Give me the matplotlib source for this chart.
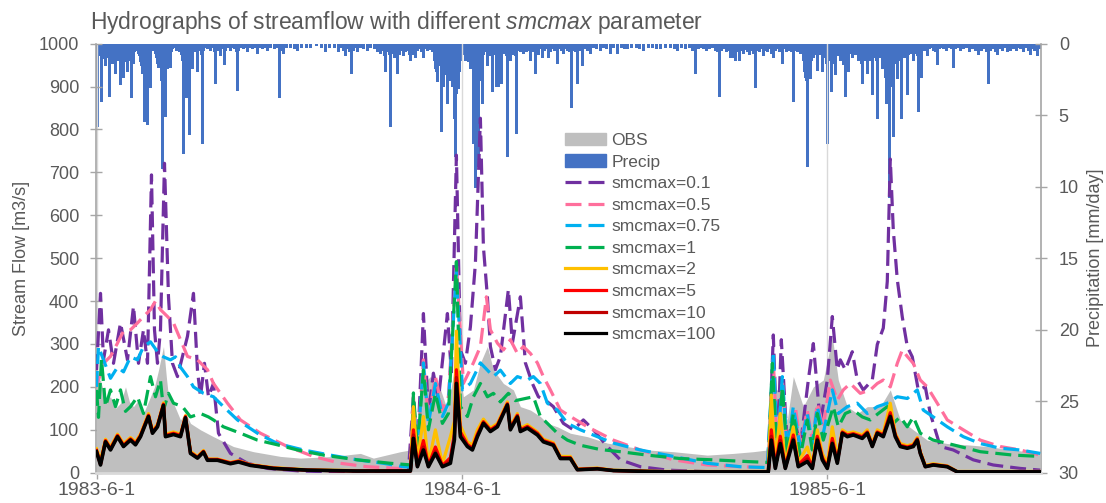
import matplotlib
matplotlib.use("Agg")
import matplotlib.pyplot as plt
import matplotlib.patches as mpatches
from matplotlib.lines import Line2D
import pandas as pd

plt.rcParams['font.family'] = ['Liberation Sans', 'DejaVu Sans']
plt.rcParams['mathtext.fontset'] = 'custom'
plt.rcParams['mathtext.rm'] = 'Liberation Sans'
plt.rcParams['mathtext.it'] = 'Liberation Sans:italic'

START = pd.Timestamp('1983-06-01')
END = pd.Timestamp('1985-12-31')

# ---- data (day offset from 1983-6-1) ----
obs_days = [0, 4, 9, 14, 19, 24, 29, 33, 37, 42, 47, 54, 58, 62, 67, 70, 72, 77, 84, 89,
            94, 104, 117, 137, 157, 184, 204, 237, 264, 277, 304, 314, 317, 321, 327, 334, 342, 351, 360, 367,
            377, 384, 391, 397, 407, 417, 424, 434, 444, 451, 461, 474, 491, 511, 531, 551, 577, 611, 637, 657,
            671, 677, 684, 691, 697, 707, 717, 727, 736, 742, 751, 761, 771, 784, 794, 804, 817, 831, 851, 871,
            891, 917, 944]
obs_flow = [210, 216, 170, 177, 150, 162, 200, 165, 154, 170, 138, 177, 200, 239, 294, 220, 177, 162, 123, 140,
            115, 100, 84, 61, 49, 38, 34, 38, 45, 34, 49, 53, 123, 90, 208, 224, 208, 146, 271, 177,
            193, 256, 294, 240, 208, 193, 154, 146, 131, 115, 107, 92, 84, 69, 61, 53, 49, 41, 45, 49,
            53, 193, 193, 123, 224, 154, 200, 216, 317, 216, 154, 138, 154, 154, 193, 123, 100, 76, 68, 65,
            61, 53, 45]

precip_events = [
    (0, 0.3), (1, 5.8), (2, 0.9), (3, 0.4), (4, 0.6), (5, 4.1), (6, 0.8), (7, 1.1), (8, 0.7), (9, 1.6),
    (10, 1.0), (11, 0.5), (12, 0.9), (13, 3.7), (14, 0.8), (15, 1.0), (16, 1.4), (17, 0.6), (18, 0.9), (19, 2.1),
    (20, 0.8), (21, 1.2), (22, 0.7), (23, 1.0), (24, 2.9), (25, 1.2), (26, 0.8), (27, 2.4), (28, 1.0), (29, 1.3),
    (30, 0.6), (31, 2.0), (32, 0.8), (33, 1.2), (34, 0.9), (35, 3.8), (36, 0.5), (37, 1.4), (38, 0.6), (39, 0.4),
    (40, 0.3), (41, 0.5), (42, 0.7), (43, 0.9), (44, 1.3), (45, 1.6), (46, 2.1), (47, 2.0), (48, 5.5), (49, 3.0),
    (50, 1.6), (51, 5.7), (52, 2.2), (53, 1.0), (54, 3.1), (55, 0.4), (56, 0.3), (57, 0.5), (58, 0.4), (59, 0.7),
    (60, 1.0), (61, 1.4), (62, 1.7), (63, 1.5), (64, 0.9), (65, 2.6), (66, 8.8), (67, 2.6), (68, 1.8), (69, 5.1),
    (70, 1.8), (71, 1.8), (72, 1.6), (73, 1.4), (74, 1.7), (75, 0.6), (76, 0.4), (78, 0.3), (80, 0.5), (82, 0.4),
    (83, 0.6), (85, 0.8), (86, 1.2), (87, 7.7), (88, 1.0), (89, 0.8), (90, 3.8), (91, 1.5), (92, 0.7), (93, 6.4),
    (94, 0.9), (95, 0.5), (96, 1.8), (97, 0.6), (98, 0.4), (100, 0.6), (101, 2.0), (102, 0.5), (103, 0.3), (104, 0.4),
    (105, 0.8), (106, 7.0), (107, 0.5), (109, 0.3), (111, 0.4), (113, 0.3), (114, 0.5), (116, 0.3), (118, 0.6), (119, 2.8),
    (120, 0.5), (121, 0.3), (122, 0.5), (124, 0.9), (125, 0.4), (126, 0.3), (128, 1.5), (129, 0.5), (131, 0.3), (134, 0.5),
    (136, 0.3), (138, 0.4), (140, 0.6), (141, 3.3), (142, 0.5), (144, 0.3), (147, 0.4), (150, 0.3), (151, 0.6), (153, 0.3),
    (156, 0.4), (158, 0.3), (161, 0.7), (163, 0.3), (166, 0.4), (169, 0.3), (171, 0.5), (174, 0.3), (178, 0.4), (181, 0.3),
    (183, 3.8), (184, 0.5), (187, 0.7), (190, 0.3), (194, 0.3), (198, 0.4), (201, 0.5), (205, 0.3), (210, 0.3), (214, 0.3),
    (220, 0.2), (225, 0.3), (229, 0.6), (233, 0.3), (238, 0.3), (242, 0.6), (245, 0.3), (247, 0.5), (249, 0.9), (251, 0.4),
    (253, 0.6), (255, 2.1), (257, 0.5), (259, 0.3), (261, 0.6), (264, 0.3), (267, 0.4), (271, 0.5), (274, 0.3), (278, 0.4),
    (281, 0.6), (284, 0.7), (286, 0.5), (288, 0.9), (289, 2.0), (291, 0.6), (293, 0.8), (294, 5.8), (296, 0.7), (298, 1.0),
    (300, 0.6), (301, 2.1), (303, 0.8), (305, 0.5), (307, 0.9), (309, 0.6), (311, 0.5), (313, 0.8), (314, 1.2), (316, 0.4),
    (317, 0.8), (319, 1.0), (321, 0.5), (323, 0.4), (325, 0.6), (327, 1.0), (329, 0.4), (331, 0.5), (334, 0.45), (336, 0.6),
    (338, 1.2), (339, 1.8), (340, 2.0), (341, 2.7), (342, 1.5), (343, 1.2), (344, 1.6), (345, 6.2), (346, 1.8), (347, 3.0),
    (348, 2.2), (349, 1.6), (350, 2.0), (351, 4.2), (352, 1.5), (353, 2.6), (354, 1.0), (355, 2.2), (356, 3.0), (357, 2.8),
    (358, 5.3), (359, 7.9), (360, 3.5), (361, 2.8), (362, 3.2), (363, 2.0), (364, 1.2), (365, 0.9), (366, 0.6), (367, 0.8),
    (368, 0.5), (369, 1.2), (370, 0.6), (371, 0.9), (372, 1.3), (373, 0.8), (374, 1.8), (375, 1.0), (376, 1.5), (377, 7.0),
    (378, 2.5), (379, 10.1), (380, 3.4), (381, 3.0), (382, 8.6), (383, 2.6), (384, 1.5), (385, 1.0), (386, 4.2), (387, 0.8),
    (388, 0.5), (389, 0.4), (390, 0.6), (391, 1.6), (392, 0.5), (393, 0.9), (394, 0.6), (395, 0.8), (396, 3.4), (397, 0.7),
    (398, 0.5), (399, 0.8), (400, 3.0), (401, 0.6), (402, 3.0), (403, 1.0), (404, 0.5), (405, 2.8), (406, 0.6), (407, 0.4),
    (408, 0.7), (409, 0.5), (410, 0.9), (411, 7.9), (412, 0.6), (413, 0.4), (414, 1.2), (415, 0.5), (416, 0.8), (417, 0.4),
    (418, 0.6), (419, 0.9), (420, 6.3), (421, 0.5), (422, 0.4), (424, 0.6), (425, 0.5), (427, 0.7), (429, 0.4), (430, 0.6),
    (432, 0.5), (434, 1.2), (435, 0.4), (437, 0.6), (439, 2.1), (440, 0.5), (442, 0.8), (444, 0.4), (446, 1.0), (448, 0.5),
    (450, 0.4), (452, 1.0), (454, 0.6), (456, 0.4), (458, 0.5), (461, 1.4), (463, 0.4), (465, 0.5), (467, 0.7), (469, 0.4),
    (471, 0.5), (473, 0.6), (475, 4.5), (477, 0.5), (479, 0.6), (481, 2.8), (483, 0.5), (486, 1.6), (488, 0.4), (491, 0.5),
    (494, 0.7), (497, 0.3), (500, 0.4), (504, 0.5), (507, 0.3), (510, 0.4), (514, 0.7), (517, 0.3), (521, 0.7), (525, 0.3),
    (528, 0.4), (531, 0.4), (535, 0.3), (540, 0.3), (543, 0.4), (547, 0.5), (552, 0.3), (556, 0.3), (560, 0.4), (564, 0.4),
    (569, 0.3), (574, 0.3), (578, 0.4), (581, 0.5), (585, 0.3), (589, 0.4), (593, 0.3), (596, 0.5), (599, 2.1), (602, 0.4),
    (605, 0.3), (607, 0.4), (610, 0.5), (613, 0.4), (616, 0.3), (619, 0.5), (621, 0.6), (623, 3.7), (625, 0.5), (627, 0.4),
    (630, 0.6), (632, 0.5), (634, 1.0), (636, 1.0), (637, 0.5), (639, 1.2), (641, 0.6), (643, 1.2), (645, 0.5), (647, 0.7),
    (649, 0.45), (651, 0.6), (653, 0.8), (655, 0.5), (657, 0.7), (659, 3.1), (661, 0.5), (663, 0.6), (665, 0.4), (667, 0.9),
    (669, 0.5), (671, 0.6), (673, 0.4), (675, 0.7), (677, 1.0), (679, 0.5), (681, 0.4), (683, 0.6), (685, 0.5), (686, 1.4),
    (688, 0.4), (690, 0.6), (692, 0.5), (694, 0.4), (695, 0.6), (697, 4.1), (699, 0.5), (701, 0.6), (702, 0.4), (704, 0.7),
    (706, 0.5), (707, 1.2), (708, 2.0), (709, 2.4), (710, 2.6), (711, 8.6), (712, 2.2), (713, 1.6), (714, 2.5), (715, 1.2),
    (716, 0.8), (717, 1.0), (718, 0.6), (719, 0.8), (720, 0.5), (721, 1.9), (722, 0.7), (723, 0.5), (724, 0.8), (725, 0.6),
    (726, 2.0), (727, 0.8), (728, 0.6), (729, 1.0), (730, 1.4), (731, 7.0), (732, 1.2), (733, 0.8), (734, 1.0), (735, 3.4),
    (736, 1.0), (737, 0.8), (738, 1.4), (739, 2.2), (740, 0.8), (741, 0.6), (742, 0.9), (743, 0.7), (744, 1.2), (745, 0.6),
    (746, 0.8), (747, 1.5), (748, 1.0), (749, 3.7), (750, 1.2), (751, 0.8), (752, 2.0), (753, 0.6), (754, 0.4), (755, 0.7),
    (756, 1.0), (757, 0.6), (758, 0.5), (759, 0.8), (760, 0.6), (761, 0.7), (762, 1.2), (763, 0.8), (764, 1.0), (765, 1.4),
    (766, 2.8), (767, 1.0), (768, 0.8), (769, 1.2), (770, 0.9), (771, 2.1), (772, 0.8), (773, 0.6), (774, 1.2), (775, 1.0),
    (776, 3.6), (777, 1.0), (778, 0.6), (779, 0.8), (780, 1.2), (781, 5.3), (782, 1.0), (783, 0.6), (784, 0.8), (785, 1.0),
    (786, 1.8), (787, 1.2), (788, 0.8), (789, 2.4), (790, 4.2), (791, 1.4), (792, 2.0), (793, 10.8), (794, 3.0), (795, 2.0),
    (796, 1.2), (797, 6.5), (798, 1.4), (799, 1.0), (800, 0.8), (801, 2.5), (802, 1.0), (803, 0.8), (804, 1.2), (805, 5.3),
    (806, 1.0), (807, 0.8), (808, 0.6), (809, 1.0), (810, 0.8), (811, 3.6), (812, 0.8), (813, 0.6), (814, 0.5), (815, 0.7),
    (816, 0.5), (817, 1.2), (818, 0.6), (819, 0.4), (820, 0.7), (821, 0.9), (822, 4.8), (823, 0.6), (824, 0.5), (825, 2.4),
    (826, 0.4), (828, 0.5), (829, 0.3), (831, 0.9), (833, 0.4), (835, 0.3), (837, 0.5), (839, 0.6), (841, 1.5), (843, 0.4),
    (845, 0.3), (847, 0.4), (850, 0.5), (853, 0.3), (855, 0.4), (857, 1.7), (859, 0.4), (861, 0.3), (864, 0.5), (867, 0.4),
    (870, 0.3), (873, 0.6), (876, 0.4), (879, 0.5), (882, 0.8), (885, 0.5), (888, 0.4), (890, 0.6), (892, 2.8), (894, 0.5),
    (897, 0.4), (899, 0.6), (901, 0.8), (903, 0.4), (906, 0.5), (909, 0.3), (911, 0.6), (914, 0.5), (917, 0.4), (920, 0.5),
    (922, 0.3), (924, 0.4), (927, 0.6), (930, 0.3), (932, 0.5), (934, 0.8), (936, 0.4), (938, 0.5), (941, 0.9), (943, 0.4),
]

purple_days = [0, 4, 7, 12, 17, 24, 31, 37, 42, 47, 51, 55, 58, 61, 64, 68, 72, 76, 81, 86,
               91, 97, 101, 104, 108, 112, 117, 122, 134, 151, 171, 204, 237, 312, 317, 321, 327, 332, 337, 342,
               351, 355, 360, 364, 369, 374, 379, 384, 387, 391, 394, 399, 404, 412, 416, 424, 429, 436, 442, 449,
               457, 467, 477, 487, 497, 511, 524, 544, 571, 617, 672, 677, 681, 685, 691, 697, 704, 712, 717, 724,
               731, 736, 741, 744, 749, 756, 761, 767, 776, 781, 787, 791, 794, 797, 801, 806, 811, 816, 822, 829,
               834, 844, 857, 877, 897, 924, 944]
smc_01 = [239, 418, 263, 333, 255, 349, 263, 388, 255, 333, 255, 694, 333, 255, 333, 721, 410, 255, 224, 271,
          318, 418, 239, 177, 255, 177, 208, 92, 45, 22, 10, 4, 2, 2, 177, 45, 371, 138, 232, 169,
          371, 232, 740, 286, 255, 340, 488, 826, 527, 410, 294, 240, 271, 427, 302, 410, 256, 208, 177, 169,
          154, 115, 100, 123, 100, 61, 30, 14, 6, 2, 2, 321, 45, 310, 61, 138, 61, 216, 301, 115,
          216, 364, 240, 263, 240, 282, 216, 193, 216, 299, 337, 446, 731, 566, 450, 363, 294, 270, 193, 200,
          138, 61, 53, 30, 18, 10, 6]

pink_days = [0, 7, 14, 21, 27, 34, 41, 47, 54, 59, 64, 71, 77, 84, 91, 101, 111, 117, 131, 144,
             164, 191, 217, 244, 271, 301, 314, 317, 321, 327, 332, 339, 346, 352, 360, 367, 377, 384, 390, 394,
             401, 407, 414, 421, 427, 434, 441, 447, 454, 464, 474, 491, 517, 544, 577, 611, 644, 671, 677, 681,
             686, 691, 699, 704, 711, 716, 721, 727, 734, 741, 747, 754, 764, 774, 781, 787, 794, 801, 806, 811,
             817, 824, 831, 841, 851, 867, 884, 904, 924, 944]
smc_05 = [200, 255, 271, 302, 330, 333, 349, 364, 380, 400, 380, 364, 349, 310, 271, 263, 240, 208, 162, 123,
          92, 61, 38, 22, 14, 10, 10, 177, 53, 263, 123, 224, 146, 177, 488, 208, 256, 294, 410, 333,
          302, 286, 310, 278, 294, 278, 256, 224, 193, 146, 131, 107, 76, 53, 30, 18, 14, 12, 264, 45,
          216, 53, 154, 68, 146, 76, 162, 107, 216, 169, 193, 208, 185, 193, 208, 216, 200, 255, 286, 271,
          255, 216, 200, 162, 123, 100, 76, 61, 53, 41]

blue_days = [0, 2, 7, 14, 21, 27, 34, 41, 47, 54, 61, 67, 74, 79, 84, 91, 97, 107, 117, 127,
             141, 161, 181, 207, 234, 261, 287, 307, 315, 317, 321, 327, 332, 339, 346, 352, 360, 366, 374, 384,
             391, 397, 404, 414, 421, 431, 437, 444, 451, 461, 471, 484, 501, 517, 544, 577, 611, 644, 671, 677,
             681, 686, 691, 697, 704, 711, 716, 721, 727, 736, 742, 751, 761, 771, 781, 791, 801, 811, 821, 827,
             837, 851, 867, 884, 904, 924, 944]
smc_075 = [200, 294, 263, 220, 246, 235, 270, 263, 294, 305, 282, 270, 263, 270, 246, 224, 200, 185, 177, 154,
           123, 92, 68, 53, 41, 30, 22, 14, 13, 162, 53, 256, 115, 208, 131, 162, 472, 193, 208, 256,
           239, 224, 239, 208, 224, 216, 224, 208, 162, 146, 115, 100, 84, 69, 53, 38, 22, 14, 12, 282,
           45, 224, 53, 154, 61, 138, 68, 154, 92, 193, 138, 154, 162, 138, 154, 162, 177, 173, 193, 146,
           130, 107, 84, 68, 57, 53, 45]

green_days = [0, 2, 5, 9, 14, 19, 24, 29, 34, 41, 47, 54, 59, 64, 67, 72, 77, 86, 94, 104,
              112, 117, 127, 144, 161, 181, 201, 227, 261, 294, 315, 317, 321, 327, 332, 339, 346, 352, 360, 364,
              371, 377, 384, 391, 397, 404, 412, 419, 427, 437, 444, 451, 461, 471, 484, 504, 524, 551, 584, 617,
              651, 672, 676, 681, 686, 691, 697, 704, 711, 716, 721, 727, 737, 742, 749, 757, 766, 774, 782, 791,
              797, 804, 811, 817, 824, 837, 857, 884, 917, 944]
smc_1 = [193, 129, 265, 154, 193, 154, 193, 143, 154, 177, 138, 224, 177, 216, 146, 185, 162, 154, 130, 138,
         130, 123, 107, 92, 76, 65, 53, 41, 30, 22, 18, 186, 53, 239, 100, 185, 115, 138, 492, 154,
         131, 177, 208, 177, 185, 165, 185, 168, 172, 177, 131, 115, 92, 76, 64, 54, 49, 41, 33, 30,
         26, 24, 255, 30, 200, 38, 138, 38, 123, 53, 138, 76, 154, 107, 138, 146, 130, 123, 138, 154,
         115, 130, 107, 130, 92, 76, 65, 49, 41, 38]

low_days = [0, 4, 9, 14, 21, 27, 34, 39, 44, 52, 56, 61, 67, 69, 77, 84, 89, 94, 101, 107,
            111, 121, 134, 142, 154, 177, 211, 260, 314, 317, 321, 327, 332, 339, 346, 354, 358, 360, 364, 371,
            376, 381, 387, 394, 401, 411, 414, 421, 424, 431, 441, 447, 457, 464, 474, 481, 501, 517, 567, 651,
            672, 675, 679, 684, 689, 697, 702, 711, 716, 721, 726, 731, 736, 741, 746, 751, 757, 766, 771, 776,
            781, 787, 794, 799, 804, 811, 817, 821, 824, 829, 837, 851, 861, 944]
smc_2 = [56, 30, 78, 60, 90, 68, 82, 72, 90, 138, 98, 113, 163, 90, 95, 90, 133, 50, 38, 52,
         32, 32, 24, 28, 19, 12, 7, 5, 5, 154, 22, 131, 20, 100, 20, 84, 120, 330, 110, 72,
         65, 100, 125, 104, 115, 165, 108, 138, 104, 112, 95, 78, 70, 38, 38, 9, 11, 6, 3, 3,
         3, 181, 25, 138, 20, 107, 25, 60, 18, 100, 45, 20, 107, 35, 100, 92, 95, 88, 100, 68,
         100, 92, 162, 92, 68, 63, 67, 82, 50, 17, 21, 16, 3, 3]
smc_5 = [52, 21, 75, 56, 87, 64, 79, 68, 87, 134, 95, 110, 160, 87, 92, 87, 131, 47, 36, 50,
         31, 31, 23, 27, 18, 11, 6, 4, 4, 100, 17, 75, 17, 60, 17, 35, 90, 240, 95, 66,
         57, 90, 119, 100, 111, 161, 104, 134, 100, 108, 92, 75, 67, 35, 35, 8, 10, 5, 2, 2,
         2, 100, 15, 85, 13, 88, 18, 40, 13, 85, 36, 13, 80, 26, 95, 88, 91, 84, 95, 64,
         95, 88, 140, 88, 64, 60, 64, 79, 47, 15, 19, 15, 2, 2]
smc_10 = [50, 19, 73, 54, 85, 62, 77, 66, 85, 132, 93, 108, 158, 85, 90, 85, 129, 46, 35, 49,
          30, 30, 22, 26, 18, 10, 6, 4, 4, 88, 15, 60, 15, 50, 15, 28, 82, 222, 88, 63,
          55, 86, 117, 98, 109, 159, 102, 132, 98, 106, 90, 73, 65, 34, 34, 7, 9, 5, 2, 2,
          2, 85, 12, 75, 11, 80, 15, 32, 11, 80, 32, 11, 72, 24, 93, 86, 89, 82, 93, 62,
          93, 86, 135, 86, 62, 58, 62, 77, 46, 14, 18, 14, 2, 2]
smc_100 = [49, 18, 72, 53, 84, 61, 76, 65, 84, 131, 92, 107, 157, 84, 89, 84, 128, 45, 34, 48,
           29, 29, 21, 25, 17, 10, 6, 4, 4, 80, 14, 53, 14, 45, 14, 22, 77, 208, 84, 61,
           53, 84, 115, 96, 107, 158, 100, 130, 96, 104, 88, 72, 64, 33, 33, 7, 9, 5, 2, 2,
           2, 76, 10, 68, 10, 76, 14, 26, 10, 76, 30, 10, 68, 22, 92, 84, 88, 80, 92, 61,
           92, 84, 131, 84, 61, 57, 61, 76, 45, 14, 18, 14, 2, 2]

tick_dates = ['1983-06-01', '1984-06-01', '1985-06-01']
tick_labels = ['1983-6-1', '1984-6-1', '1985-6-1']

GREY_TXT = '#595959'
AXIS_COL = '#A6A6A6'


def to_dates(days):
    return START + pd.to_timedelta(days, unit='D')


fig = plt.figure(figsize=(11.06, 5.03), dpi=100)
ax = fig.add_axes([0.0868, 0.0602, 0.8542, 0.8531])
ax2 = ax.twinx()
ax.set_zorder(ax2.get_zorder() + 1)
ax.patch.set_visible(False)
ax2.patch.set_visible(True)
ax2.patch.set_facecolor('white')

# precipitation, hanging from the top on the secondary axis
p_days = [d for d, v in precip_events]
p_mm = [v for d, v in precip_events]
ax2.bar(to_dates(p_days), p_mm, width=2.6, color='#4472C4', linewidth=0)
ax2.set_ylim(30, 0)
ax2.set_yticks(range(0, 31, 5))

# observed flow area
ax.fill_between(to_dates(obs_days), obs_flow, 0, color='#BFBFBF', linewidth=0, zorder=1)

dash = (0, (5, 2.2))
series = [
    (purple_days, smc_01, '#7030A0', dash, 'smcmax=0.1'),
    (pink_days, smc_05, '#FF6F9C', dash, 'smcmax=0.5'),
    (blue_days, smc_075, '#00B0F0', dash, 'smcmax=0.75'),
    (green_days, smc_1, '#00B050', dash, 'smcmax=1'),
    (low_days, smc_2, '#FFC000', '-', 'smcmax=2'),
    (low_days, smc_5, '#FF0000', '-', 'smcmax=5'),
    (low_days, smc_10, '#C00000', '-', 'smcmax=10'),
    (low_days, smc_100, '#000000', '-', 'smcmax=100'),
]
handles = [mpatches.Patch(color='#BFBFBF', label='OBS'),
           mpatches.Patch(color='#4472C4', label='Precip')]
for i, (d, v, c, ls, lab) in enumerate(series):
    lw = 2.6 if lab == 'smcmax=100' else 2.3
    ax.plot(to_dates(d), v, color=c, linestyle=ls, lw=lw, zorder=3 + i,
            solid_joinstyle='round', dash_capstyle='butt')
    handles.append(Line2D([], [], color=c, linestyle=ls, lw=2.3, label=lab))

ax.set_ylim(0, 1000)
ax.set_yticks(range(0, 1001, 100))
ax.set_xlim(START - pd.Timedelta(days=0.5), END + pd.Timedelta(days=0.5))
ax.set_xticks(pd.to_datetime(tick_dates))
ax.set_xticklabels(tick_labels)
ax.xaxis.grid(True, color='#D9D9D9', lw=1)
ax.set_axisbelow(True)

for a in (ax, ax2):
    a.tick_params(axis='both', direction='inout', length=8, width=1, color=AXIS_COL,
                  labelcolor=GREY_TXT, labelsize=13)
    a.spines['top'].set_visible(False)
ax.tick_params(axis='y', pad=8)
ax2.tick_params(axis='y', pad=9)
ax.tick_params(axis='x', pad=3, labelsize=14)
ax.spines['right'].set_visible(False)
ax.spines['left'].set_color(AXIS_COL)
ax.spines['left'].set_linewidth(1.2)
ax.spines['bottom'].set_color('#D9D9D9')
ax.spines['bottom'].set_linewidth(2)
ax2.spines['left'].set_visible(False)
ax2.spines['bottom'].set_visible(False)
ax2.spines['right'].set_color(AXIS_COL)
ax2.spines['right'].set_linewidth(1.2)

ax.set_ylabel('Stream Flow [m3/s]', fontsize=13, color=GREY_TXT)
ax.yaxis.set_label_coords(-0.070, 0.5)
ax2.set_ylabel('Precipitation [mm/day]', fontsize=13, color=GREY_TXT, rotation=90)
ax2.yaxis.set_label_coords(1.049, 0.5)

fig.text(90 / 1106, 1 - 22 / 503,
         r'Hydrographs of streamflow with different $\mathit{smcmax}$ parameter',
         fontsize=16.5, color=GREY_TXT, va='center', ha='left')

ax.legend(handles=handles, loc='upper left', bbox_to_anchor=(0.496, 0.792),
          frameon=False, fontsize=12.5, handlelength=2.4, handletextpad=0.3,
          labelspacing=0.37, borderpad=0, borderaxespad=0, labelcolor=GREY_TXT)

fig.savefig('out.png', dpi=100)
